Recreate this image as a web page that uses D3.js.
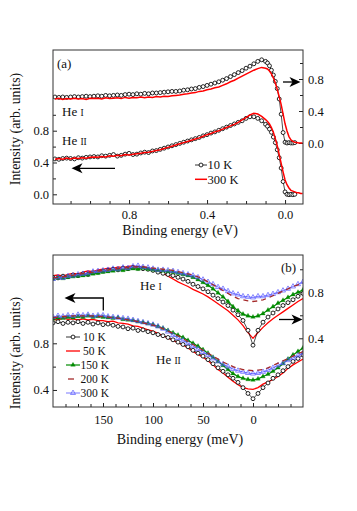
<!DOCTYPE html>
<html>
<head>
<meta charset="utf-8">
<script src="https://cdn.jsdelivr.net/npm/d3@7"></script>
<style>
body { margin: 0; background: #fff; }
svg { font-family: "Liberation Serif", "Times New Roman", serif; }
</style>
</head>
<body>
<script>
// ---- panel (a): binding energy in eV ----
var energyA = [1.18,1.16,1.14,1.12,1.10,1.08,1.06,1.04,1.02,1.00,
  0.98,0.96,0.94,0.92,0.90,0.88,0.86,0.84,0.82,0.80,
  0.78,0.76,0.74,0.72,0.70,0.68,0.66,0.64,0.62,0.60,
  0.58,0.56,0.54,0.52,0.50,0.48,0.46,0.44,0.42,0.40,
  0.38,0.36,0.34,0.32,0.30,0.28,0.26,0.24,0.22,0.20,
  0.18,0.16,0.14,0.12,0.10,
  0.09,0.08,0.07,0.06,0.05,0.04,0.03,0.02,0.01,0.00,
  -0.01,-0.02,-0.03,-0.04,-0.05,-0.06,-0.07,-0.08,-0.09];

// He I (right axis)
var heI_10K_a = [0.575,0.57,0.575,0.57,0.575,0.58,0.575,0.58,0.585,0.58,
  0.585,0.59,0.585,0.595,0.59,0.595,0.60,0.595,0.605,0.61,
  0.605,0.615,0.61,0.62,0.615,0.625,0.625,0.63,0.635,0.64,
  0.645,0.645,0.65,0.66,0.665,0.675,0.68,0.695,0.705,0.72,
  0.735,0.75,0.765,0.785,0.805,0.83,0.855,0.88,0.905,0.935,
  0.96,0.99,1.02,1.04,1.02,
  1.0,0.965,0.91,0.85,0.77,0.68,0.55,0.36,0.13,0.01,
  0.0,0.005,0.0,0.0,0.005,null,null,null,null];
var heI_300K_a = [0.55,0.56,0.545,0.555,0.55,0.56,0.55,0.555,0.545,0.56,
  0.555,0.56,0.55,0.565,0.555,0.56,0.565,0.555,0.57,0.56,
  0.57,0.565,0.575,0.565,0.575,0.57,0.58,0.575,0.585,0.58,
  0.59,0.595,0.60,0.61,0.615,0.625,0.63,0.645,0.65,0.665,
  0.675,0.69,0.70,0.72,0.74,0.765,0.785,0.81,0.835,0.86,
  0.885,0.91,0.93,0.945,0.935,
  0.925,0.90,0.865,0.815,0.75,0.67,0.58,0.48,0.36,0.24,
  0.15,0.08,0.04,0.02,0.01,0.005,0.0,0.0,0.0];
// He II (left axis)
var heII_10K_a = [0.445,0.44,0.45,0.455,0.45,0.445,0.46,0.455,0.465,0.47,
  0.475,0.47,0.485,0.48,0.49,0.5,0.48,0.49,0.505,0.515,
  0.5,0.505,0.52,0.53,0.525,0.545,0.55,0.565,0.58,0.595,
  0.61,0.625,0.64,0.655,0.67,0.685,0.70,0.715,0.735,0.75,
  0.77,0.785,0.805,0.825,0.845,0.865,0.885,0.905,0.925,0.955,
  0.975,0.975,0.955,0.925,0.88,
  0.855,0.82,0.78,0.72,0.65,0.56,0.46,0.33,0.16,0.03,
  0.0,-0.005,0.0,-0.005,0.0,null,null,null,null];
var heII_300K_a = [0.44,0.45,0.44,0.455,0.445,0.455,0.45,0.46,0.455,0.465,
  0.47,0.465,0.475,0.47,0.485,0.48,0.49,0.485,0.5,0.495,
  0.505,0.51,0.515,0.525,0.53,0.54,0.55,0.56,0.575,0.59,
  0.605,0.62,0.635,0.65,0.665,0.68,0.695,0.71,0.73,0.75,
  0.765,0.785,0.80,0.82,0.84,0.86,0.88,0.905,0.935,0.965,
  1.0,1.02,1.01,0.98,0.94,
  0.915,0.885,0.84,0.78,0.70,0.61,0.50,0.39,0.28,0.18,
  0.12,0.08,0.05,0.04,0.03,0.02,0.02,0.01,0.01];

// ---- panel (b): binding energy in meV ----
var energyB = [200,195,190,185,180,175,170,165,160,155,150,145,140,135,130,125,120,115,110,105,
  100,95,90,85,80,75,70,65,60,55,50,45,40,35,30,25,20,15,10,5,0,
  -5,-10,-15,-20,-25,-30,-35,-40,-45,-50];

// He I (right axis)
var heI_10K = [0.93,0.925,0.94,0.935,0.95,0.945,0.96,0.955,0.97,0.975,
  0.985,0.99,1.0,0.995,1.01,1.005,1.015,1.01,1.005,1.0,
  0.99,0.975,0.965,0.955,0.945,0.93,0.915,0.895,0.87,0.85,
  0.83,0.805,0.775,0.745,0.715,0.685,0.645,0.605,0.555,0.47,
  0.34,
  0.47,0.54,0.585,0.62,0.655,0.685,0.71,0.735,0.765,0.79];
var heI_50K = [0.945,0.95,0.94,0.955,0.965,0.96,0.975,0.985,0.98,0.995,
  1.0,1.01,1.005,1.02,1.015,1.025,1.03,1.02,1.025,1.01,
  1.0,0.985,0.965,0.94,0.915,0.89,0.87,0.85,0.825,0.805,
  0.785,0.76,0.73,0.7,0.67,0.64,0.6,0.56,0.51,0.45,
  0.40,
  0.45,0.495,0.535,0.57,0.6,0.63,0.66,0.69,0.72,0.745];
var heI_150K = [0.915,0.925,0.92,0.93,0.935,0.94,0.945,0.95,0.96,0.965,
  0.975,0.98,0.985,0.995,0.99,1.0,1.005,1.0,1.01,1.0,
  0.995,0.99,0.985,0.98,0.975,0.965,0.955,0.945,0.93,0.91,
  0.885,0.86,0.83,0.795,0.76,0.72,0.675,0.64,0.61,0.595,
  0.585,
  0.595,0.615,0.645,0.675,0.705,0.73,0.755,0.78,0.80,0.82];
var heI_200K = [0.925,0.93,0.935,0.94,0.95,0.955,0.965,0.97,0.975,0.985,
  0.99,0.995,1.0,1.005,1.01,1.015,1.02,1.02,1.02,1.015,
  1.01,1.005,1.0,0.995,0.99,0.98,0.97,0.96,0.95,0.935,
  0.915,0.89,0.865,0.84,0.815,0.79,0.765,0.745,0.735,0.725,
  0.72,
  0.725,0.735,0.75,0.77,0.79,0.81,0.83,0.85,0.865,0.88];
var heI_300K = [0.915,0.93,0.925,0.94,0.945,0.955,0.96,0.965,0.98,0.985,
  0.99,0.995,1.005,1.0,1.015,1.01,1.025,1.03,1.02,1.015,
  1.005,0.995,0.995,0.99,0.985,0.975,0.965,0.955,0.945,0.93,
  0.91,0.89,0.87,0.845,0.83,0.81,0.79,0.78,0.765,0.76,
  0.755,
  0.765,0.765,0.775,0.785,0.80,0.815,0.83,0.85,0.87,0.89];

// He II (left axis)
var heII_10K = [0.975,0.985,0.97,0.98,0.975,0.985,0.97,0.98,0.965,0.975,
  0.96,0.965,0.955,0.945,0.94,0.925,0.93,0.91,0.915,0.9,
  0.89,0.875,0.865,0.85,0.83,0.81,0.79,0.77,0.74,0.715,
  0.69,0.66,0.625,0.59,0.56,0.53,0.5,0.465,0.42,0.37,
  0.325,
  0.37,0.42,0.46,0.5,0.53,0.565,0.6,0.645,0.67,0.70];
var heII_50K = [1.005,1.0,1.015,1.005,1.01,1.0,1.01,1.0,1.005,0.995,
  0.995,0.985,0.99,0.975,0.97,0.965,0.95,0.945,0.93,0.915,
  0.905,0.885,0.865,0.845,0.825,0.805,0.785,0.76,0.73,0.705,
  0.68,0.65,0.615,0.575,0.545,0.51,0.475,0.445,0.42,0.41,
  0.405,
  0.42,0.45,0.47,0.49,0.515,0.545,0.585,0.615,0.64,0.665];
var heII_150K = [1.01,1.02,1.015,1.025,1.02,1.03,1.025,1.035,1.025,1.03,
  1.025,1.02,1.015,1.02,1.005,1.0,0.995,0.985,0.98,0.97,
  0.96,0.945,0.93,0.91,0.89,0.87,0.85,0.825,0.8,0.775,
  0.745,0.715,0.68,0.645,0.61,0.575,0.54,0.515,0.5,0.49,
  0.485,
  0.495,0.515,0.535,0.56,0.59,0.625,0.665,0.7,0.73,0.76];
var heII_200K = [1.02,1.025,1.03,1.03,1.035,1.035,1.035,1.035,1.035,1.03,
  1.03,1.025,1.02,1.015,1.01,1.0,0.995,0.985,0.975,0.965,
  0.955,0.94,0.925,0.905,0.885,0.865,0.84,0.815,0.79,0.765,
  0.74,0.715,0.69,0.665,0.64,0.62,0.6,0.585,0.575,0.57,
  0.565,
  0.57,0.575,0.59,0.61,0.63,0.65,0.67,0.69,0.71,0.73];
var heII_300K = [1.025,1.035,1.03,1.04,1.035,1.045,1.04,1.045,1.035,1.04,
  1.04,1.03,1.025,1.02,1.015,1.01,1.0,0.99,0.98,0.97,
  0.96,0.945,0.925,0.9,0.87,0.845,0.825,0.8,0.775,0.75,
  0.725,0.7,0.67,0.645,0.62,0.6,0.58,0.565,0.555,0.545,
  0.54,
  0.545,0.555,0.57,0.59,0.61,0.63,0.655,0.675,0.695,0.715];

// tick labels
var tickA_xMajor = [0.8, 0.4, 0.0];
var tickA_xMinor = [1.1, 1.0, 0.9, 0.7, 0.6, 0.5, 0.3, 0.2, 0.1];
var tickA_yMajor = [0.0, 0.4, 0.8];
var tickA_yMinor = [0.2, 0.6, 1.0];
var tickB_xMajor = [150, 100, 50, 0];
var tickB_xMinor = [187.5, 175, 162.5, 137.5, 125, 112.5, 87.5, 75, 62.5, 37.5, 25, 12.5, -12.5, -25, -37.5];
var tickB_yLeftMajor = [0.4, 0.8];
var tickB_yLeftMinor = [0.6];
var tickB_yRightMajor = [0.4, 0.8];
var tickB_yRightMinor = [0.6, 1.0];

var legendA = ["10 K", "300 K"];
var legendB = ["10 K", "50 K", "150 K", "200 K", "300 K"];

// ---- drawing ----
var width = 357, height = 511;
var left = 53, right = 303;
var topA = 50, botA = 204, topB = 255, botB = 407;
var fmt = d3.format(".1f");

var svg = d3.select("body").append("svg")
    .attr("width", width)
    .attr("height", height);

var defs = svg.append("defs");
defs.append("clipPath").attr("id", "clipA").append("rect")
    .attr("x", left).attr("y", topA).attr("width", right - left).attr("height", botA - topA);
defs.append("clipPath").attr("id", "clipB").append("rect")
    .attr("x", left).attr("y", topB).attr("width", right - left).attr("height", botB - topB);

// scales
var xA = d3.scaleLinear().domain([1.19, -0.092]).range([left, right]);
var yAL = d3.scaleLinear().domain([-0.122, 1.815]).range([botA, topA]);
var yAR = d3.scaleLinear().domain([-0.7625, 1.1625]).range([botA, topA]);
var xB = d3.scaleLinear().domain([200, -50]).range([left, right]);
var yBL = d3.scaleLinear().domain([0.254, 1.557]).range([botB, topB]);
var yBR = d3.scaleLinear().domain([-0.197, 1.124]).range([botB, topB]);

function addAxis(axisFn, scale, major, minor, tx, ty, pad, size, labelled) {
    var g1 = svg.append("g").attr("transform", "translate(" + tx + "," + ty + ")")
        .call(axisFn(scale).tickValues(major).tickSize(-4).tickPadding(pad)
              .tickFormat(labelled ? fmt : ""));
    var g2 = svg.append("g").attr("transform", "translate(" + tx + "," + ty + ")")
        .call(axisFn(scale).tickValues(minor).tickSize(-3).tickFormat(""));
    [g1, g2].forEach(function (g) {
        g.select(".domain").remove();
        g.selectAll("line").attr("stroke", "#222").attr("stroke-width", 1);
        g.selectAll("text").attr("fill", "#111")
            .style("font-family", "'Liberation Serif', serif").style("font-size", size + "px");
    });
    return g1;
}

// panel (a) axes
addAxis(d3.axisBottom, xA, tickA_xMajor, tickA_xMinor, 0, botA, 6, 12.5, true);
addAxis(d3.axisLeft, yAL, tickA_yMajor, tickA_yMinor, left, 0, 4, 12.5, true);
addAxis(d3.axisRight, yAR, tickA_yMajor, tickA_yMinor, right, 0, 5, 12.5, true);
// panel (b) axes
addAxis(d3.axisBottom, xB, tickB_xMajor, tickB_xMinor, 0, botB, 8, 12.5, true)
    .selectAll("text").text(function (d) { return d3.format("d")(d); });
addAxis(d3.axisLeft, yBL, tickB_yLeftMajor, tickB_yLeftMinor, left, 0, 4, 12.5, true);
addAxis(d3.axisRight, yBR, tickB_yRightMajor, tickB_yRightMinor, right, 0, 5, 12.5, true);

function drawSeries(g, xs, ys, x, y, st) {
    var pts = [];
    xs.forEach(function (e, i) { if (ys[i] !== null) pts.push([e, ys[i]]); });
    g.append("path").datum(pts)
        .attr("fill", "none")
        .attr("stroke", st.color)
        .attr("stroke-width", st.width)
        .attr("stroke-dasharray", st.dash || null)
        .attr("d", d3.line().x(function (d) { return x(d[0]); }).y(function (d) { return y(d[1]); }));
    if (st.marker) {
        var sym = d3.symbol()
            .type(st.marker === "circle" ? d3.symbolCircle : d3.symbolTriangle)
            .size(st.size);
        g.selectAll(null).data(pts).enter().append("path")
            .attr("transform", function (d) { return "translate(" + x(d[0]) + "," + y(d[1]) + ")"; })
            .attr("d", sym)
            .attr("fill", st.fill)
            .attr("stroke", st.mstroke || st.color)
            .attr("stroke-width", st.mwidth || 0.7);
    }
}

var st10 = { color: "#000", width: 0.7, marker: "circle", size: 12, fill: "#fff", mwidth: 0.85 };
var st50 = { color: "#ff0000", width: 1.3 };
var st300a = { color: "#ff0000", width: 1.5 };
var st150 = { color: "#008a00", width: 1.2, marker: "triangle", size: 9, fill: "#008a00", mwidth: 0.3 };
var st200 = { color: "#a52a2a", width: 1.3, dash: "5,4" };
var st300 = { color: "#5555ff", width: 0.8, marker: "triangle", size: 11, fill: "none", mwidth: 0.7 };

// panel (a) data
var gA = svg.append("g").attr("clip-path", "url(#clipA)");
drawSeries(gA, energyA, heI_10K_a, xA, yAR, st10);
drawSeries(gA, energyA, heI_300K_a, xA, yAR, st300a);
drawSeries(gA, energyA, heII_10K_a, xA, yAL, st10);
drawSeries(gA, energyA, heII_300K_a, xA, yAL, st300a);

// panel (b) data
var gB = svg.append("g").attr("clip-path", "url(#clipB)");
drawSeries(gB, energyB, heI_50K, xB, yBR, st50);
drawSeries(gB, energyB, heI_10K, xB, yBR, st10);
drawSeries(gB, energyB, heI_150K, xB, yBR, st150);
drawSeries(gB, energyB, heI_300K, xB, yBR, st300);
drawSeries(gB, energyB, heI_200K, xB, yBR, st200);
drawSeries(gB, energyB, heII_50K, xB, yBL, st50);
drawSeries(gB, energyB, heII_10K, xB, yBL, st10);
drawSeries(gB, energyB, heII_150K, xB, yBL, st150);
drawSeries(gB, energyB, heII_300K, xB, yBL, st300);
drawSeries(gB, energyB, heII_200K, xB, yBL, st200);

// frames
[[topA, botA], [topB, botB]].forEach(function (p) {
    svg.append("rect").attr("x", left).attr("y", p[0])
        .attr("width", right - left).attr("height", p[1] - p[0])
        .attr("fill", "none").attr("stroke", "#333").attr("stroke-width", 1);
});

// text helpers
function label(x, y, txt, size, anchor) {
    return svg.append("text").attr("x", x).attr("y", y)
        .attr("font-size", size).attr("text-anchor", anchor || "start")
        .attr("fill", "#111").text(txt);
}
function heLabel(x, y, numeral) {
    var t = svg.append("text").attr("x", x).attr("y", y).attr("font-size", 13).attr("fill", "#111");
    t.append("tspan").text("He ");
    t.append("tspan").attr("font-size", 9.5).text(numeral);
}

label(57, 68, "(a)", 13);
label(281, 272, "(b)", 13);
heLabel(62, 115.5, "I");
heLabel(62, 145, "II");
heLabel(140, 289.5, "I");
heLabel(156, 363.5, "II");

label(180, 235, "Binding energy (eV)", 14, "middle");
label(180, 444, "Binding energy (meV)", 14, "middle");
svg.append("text").attr("transform", "translate(19.5,129) rotate(-90)")
    .attr("text-anchor", "middle").attr("font-size", 13.8).attr("fill", "#111")
    .text("Intensity (arb. units)");
svg.append("text").attr("transform", "translate(19.5,353) rotate(-90)")
    .attr("text-anchor", "middle").attr("font-size", 13.8).attr("fill", "#111")
    .text("Intensity (arb. units)");

// arrows
function arrowHead(tipX, tipY, dir) {
    var pts = [[tipX, tipY], [tipX - dir * 11, tipY - 5], [tipX - dir * 8, tipY], [tipX - dir * 11, tipY + 5]];
    svg.append("polygon").attr("points", pts.map(function (p) { return p.join(","); }).join(" "))
        .attr("fill", "#000");
}
svg.append("path").attr("d", "M115,168.3H78").attr("stroke", "#000").attr("stroke-width", 1.3).attr("fill", "none");
arrowHead(71.5, 168.3, -1);
svg.append("path").attr("d", "M283,82H294").attr("stroke", "#000").attr("stroke-width", 1.3).attr("fill", "none");
arrowHead(300.5, 82, 1);
svg.append("path").attr("d", "M103.3,310.5V298H72").attr("stroke", "#000").attr("stroke-width", 1.3).attr("fill", "none");
arrowHead(64.5, 298, -1);
svg.append("path").attr("d", "M279,319.5H296").attr("stroke", "#000").attr("stroke-width", 1.3).attr("fill", "none");
arrowHead(302.5, 319.5, 1);

// legend (a)
var legStylesA = [st10, st300a];
legendA.forEach(function (name, i) {
    var y = 165 + i * 14.3, st = legStylesA[i];
    svg.append("line").attr("x1", 195).attr("x2", 207).attr("y1", y).attr("y2", y)
        .attr("stroke", st.color).attr("stroke-width", st.width < 1 ? 0.8 : st.width);
    if (st.marker) {
        svg.append("path").attr("transform", "translate(201," + y + ")")
            .attr("d", d3.symbol().type(d3.symbolCircle).size(st.size))
            .attr("fill", st.fill).attr("stroke", st.color).attr("stroke-width", st.mwidth);
    }
    label(207.5, y + 4.3, name, 12.5);
});

// legend (b)
var legStylesB = [st10, st50, st150, st200, st300];
legendB.forEach(function (name, i) {
    var y = 337 + i * 14, st = legStylesB[i];
    if (st.dash) {
        svg.append("line").attr("x1", 68).attr("x2", 74).attr("y1", y).attr("y2", y)
            .attr("stroke", st.color).attr("stroke-width", st.width);
    } else {
        svg.append("line").attr("x1", 66).attr("x2", 80).attr("y1", y).attr("y2", y)
            .attr("stroke", st.color).attr("stroke-width", st.width < 1 ? 0.8 : st.width);
    }
    if (st.marker) {
        svg.append("path").attr("transform", "translate(73," + y + ")")
            .attr("d", d3.symbol().type(st.marker === "circle" ? d3.symbolCircle : d3.symbolTriangle).size(st.size))
            .attr("fill", st.fill).attr("stroke", st.mstroke || st.color).attr("stroke-width", st.mwidth);
    }
    label(name.length < 5 ? 83 : 80.5, y + 3.8, name, 11.5);
});
</script>
</body>
</html>
